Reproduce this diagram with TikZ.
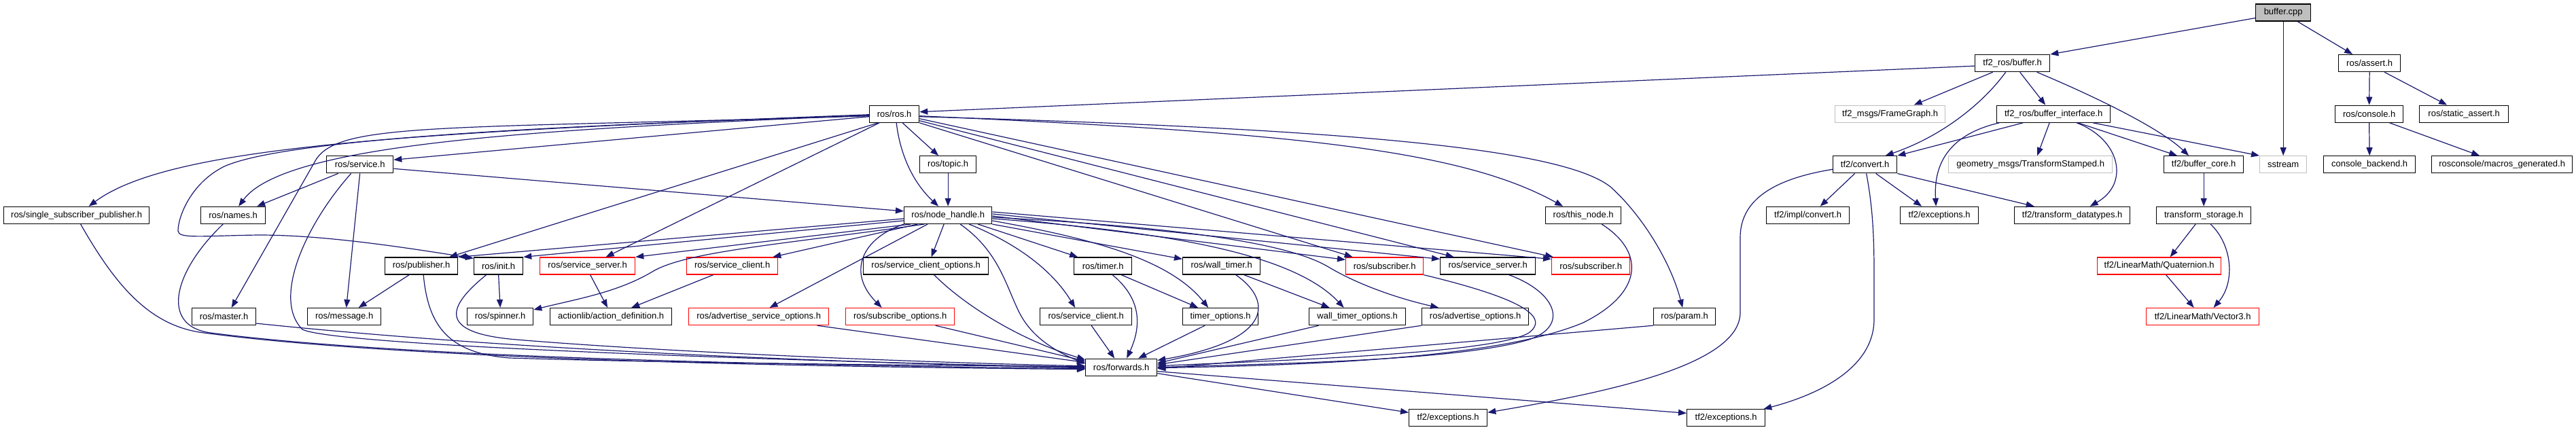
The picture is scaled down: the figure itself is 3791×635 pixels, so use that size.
\documentclass[tikz,border=0pt]{standalone}
\usepackage{fontspec}
\setmainfont{Liberation Sans}
\usetikzlibrary{arrows.meta}
\definecolor{edgec}{HTML}{191970}
\definecolor{grayb}{HTML}{BFBFBF}
\definecolor{redb}{HTML}{FF0000}
\tikzset{
 bx/.style={draw=black, line width=1.3pt, fill=white, inner sep=0pt, minimum height=25pt, anchor=west, font=\fontsize{13}{15}\selectfont},
 rb/.style={bx, draw=redb},
 gb/.style={bx, draw=grayb},
 fb/.style={bx, fill=grayb},
 edg/.style={draw=edgec, line width=1.2pt, -{Triangle[length=12pt,width=9pt]}},
}
\begin{document}
\begin{tikzpicture}[x=1pt,y=-1pt]
\fill[white] (0,0) rectangle (3791,635);
\useasboundingbox (0,0) rectangle (3791,635);
% row 0
\node[fb, minimum width=81pt] (bcpp) at (3319,18.5) {buffer.cpp};
% row 1
\node[bx, minimum width=110pt] (tfbuf) at (2906,93.1) {tf2\_ros/buffer.h};
\node[bx, minimum width=91pt] (assrt) at (3441,93.1) {ros/assert.h};
% row 2
\node[bx, minimum width=73pt] (rosh) at (1279,167.7) {ros/ros.h};
\node[gb, minimum width=162pt] (fg) at (2700,167.7) {tf2\_msgs/FrameGraph.h};
\node[bx, minimum width=167pt] (bi) at (2938,167.7) {tf2\_ros/buffer\_interface.h};
\node[bx, minimum width=100pt] (cons) at (3436,167.7) {ros/console.h};
\node[bx, minimum width=131pt] (sassert) at (3560,167.7) {ros/static\_assert.h};
% row 3
\node[bx, minimum width=98pt] (service) at (480,242.3) {ros/service.h};
\node[bx, minimum width=83pt] (topic) at (1353,242.3) {ros/topic.h};
\node[bx, minimum width=94pt] (convert) at (2697,242.3) {tf2/convert.h};
\node[gb, minimum width=241pt] (ts) at (2867,242.3) {geometry\_msgs/TransformStamped.h};
\node[bx, minimum width=117pt] (bcore) at (3184,242.3) {tf2/buffer\_core.h};
\node[gb, minimum width=69pt] (sstream) at (3325,242.3) {sstream};
\node[bx, minimum width=135pt] (cback) at (3419,242.3) {console\_backend.h};
\node[bx, minimum width=207pt] (macros) at (3578,242.3) {rosconsole/macros\_generated.h};
% row 4
\node[bx, minimum width=214pt] (ssp) at (5,316.9) {ros/single\_subscriber\_publisher.h};
\node[bx, minimum width=95pt] (names) at (295,316.9) {ros/names.h};
\node[bx, minimum width=129pt] (nh) at (1330,316.9) {ros/node\_handle.h};
\node[bx, minimum width=111pt] (thisnode) at (2274,316.9) {ros/this\_node.h};
\node[bx, minimum width=122pt] (impl) at (2599,316.9) {tf2/impl/convert.h};
\node[bx, minimum width=115pt] (exc3) at (2796,316.9) {tf2/exceptions.h};
\node[bx, minimum width=170pt] (tdt) at (2964,316.9) {tf2/transform\_datatypes.h};
\node[bx, minimum width=139pt] (tstore) at (3173,316.9) {transform\_storage.h};
% row 5
\node[bx, minimum width=107pt] (pub) at (566,391.5) {ros/publisher.h};
\node[bx, minimum width=72pt] (init) at (697,391.5) {ros/init.h};
\node[rb, minimum width=140pt] (ssrv) at (794,391.5) {ros/service\_server.h};
\node[rb, minimum width=134pt] (scli) at (1010,391.5) {ros/service\_client.h};
\node[bx, minimum width=184pt] (sco) at (1270,391.5) {ros/service\_client\_options.h};
\node[bx, minimum width=85pt] (timer) at (1580,391.5) {ros/timer.h};
\node[bx, minimum width=114pt] (wtimer) at (1740,391.5) {ros/wall\_timer.h};
\node[rb, minimum width=114pt] (sub1) at (1980,391.5) {ros/subscriber.h};
\node[bx, minimum width=140pt] (ssrv2) at (2119,391.5) {ros/service\_server.h};
\node[rb, minimum width=115pt] (sub2) at (2283,391.5) {ros/subscriber.h};
\node[rb, minimum width=182pt] (quat) at (3086,391.5) {tf2/LinearMath/Quaternion.h};
% row 6
\node[bx, minimum width=94pt] (master) at (282,466.1) {ros/master.h};
\node[bx, minimum width=108pt] (message) at (452,466.1) {ros/message.h};
\node[bx, minimum width=97pt] (spinner) at (687,466.1) {ros/spinner.h};
\node[bx, minimum width=179pt] (actdef) at (809,466.1) {actionlib/action\_definition.h};
\node[rb, minimum width=206pt] (aso) at (1013,466.1) {ros/advertise\_service\_options.h};
\node[rb, minimum width=160pt] (subopt) at (1244,466.1) {ros/subscribe\_options.h};
\node[bx, minimum width=135pt] (scli2) at (1530,466.1) {ros/service\_client.h};
\node[bx, minimum width=111pt] (topt) at (1740,466.1) {timer\_options.h};
\node[bx, minimum width=142pt] (wtopt) at (1926,466.1) {wall\_timer\_options.h};
\node[bx, minimum width=157pt] (advopt) at (2092,466.1) {ros/advertise\_options.h};
\node[bx, minimum width=91pt] (param) at (2433,466.1) {ros/param.h};
\node[rb, minimum width=166pt] (vec3) at (3158,466.1) {tf2/LinearMath/Vector3.h};
% row 7
\node[bx, minimum width=105pt] (fwd) at (1597,540.7) {ros/forwards.h};
% row 8
\node[bx, minimum width=115pt] (exc1) at (2073,615.3) {tf2/exceptions.h};
\node[bx, minimum width=115pt] (exc2) at (2482,615.3) {tf2/exceptions.h};

% ---- edges: tf2 side
\draw[edg] ([yshift=-8]bcpp.west) -- (tfbuf.north east);
\draw[edg] (bcpp.south) -- (sstream.north);
\draw[edg] ([xshift=21]bcpp.south) -- ([xshift=-25]assrt.north);
\draw[edg] (assrt.south) -- (cons.north);
\draw[edg] ([xshift=22]assrt.south) -- ([xshift=-25]sassert.north);
\draw[edg] (cons.south) -- (cback.north);
\draw[edg] ([xshift=30]cons.south) -- ([xshift=-33]macros.north);
\draw[edg] ([yshift=-4]tfbuf.west) -- ([yshift=3]rosh.east);
\draw[edg] ([xshift=-29]tfbuf.south) -- ([xshift=35]fg.north);
\draw[edg] ([xshift=-10]tfbuf.south) .. controls (2920,150) and (2860,200) .. ([xshift=30]convert.north);
\draw[edg] ([xshift=11]tfbuf.south) -- ([xshift=-12]bi.north);
\draw[edg] ([xshift=36]tfbuf.south) .. controls (3090,145) and (3180,190) .. ([xshift=-22]bcore.north);
\draw[edg] ([xshift=-45]bi.south) -- (convert.north east);
\draw[edg] ([xshift=-6]bi.south) -- ([xshift=10]ts.north);
\draw[edg] ([xshift=-80]bi.south) .. controls (2860,200) and (2846,250) .. ([xshift=-5]exc3.north);
\draw[edg] ([xshift=34]bi.south) .. controls (3120,205) and (3135,270) .. ([xshift=26]tdt.north);
\draw[edg] ([xshift=58]bi.south) -- (sstream.north west);
\draw[edg] ([xshift=36]bi.south) -- ([xshift=-39]bcore.north);
\draw[edg] ([xshift=-15]convert.south) -- ([xshift=18]impl.north);
\draw[edg] ([xshift=16]convert.south) -- ([xshift=-26]exc3.north);
\draw[edg] (convert.south east) -- ([xshift=-56]tdt.north);
\draw[edg] ([yshift=-7]convert.west) .. controls (2600,265) and (2561,300) .. (2561,350) -- (2561,460) .. controls (2561,540) and (2350,580) .. ([yshift=8]exc1.east);
\draw[edg] ([xshift=2]convert.south) .. controls (2755,300) and (2758,340) .. (2758,400) -- (2758,470) .. controls (2758,540) and (2680,580) .. ([xshift=-3]exc2.north east);
\draw[edg] (bcore.south) -- (tstore.north);
\draw[edg] ([xshift=-12]tstore.south) -- ([xshift=16]quat.north);
\draw[edg] ([xshift=10]tstore.south) .. controls (3285,360) and (3290,415) .. ([xshift=16]vec3.north);
\draw[edg] ([xshift=10]quat.south) -- ([xshift=-13]vec3.north);

% ---- edges: ros.h
\draw[edg] ([yshift=-1]rosh.west) .. controls (600,195) and (250,215) .. ([xshift=18]ssp.north);
\draw[edg] ([yshift=-2]rosh.west) .. controls (800,190) and (420,210) .. ([xshift=8]names.north);
\draw[edg] ([yshift=-3]rosh.west) .. controls (650,190) and (500,180) .. (465,235) -- ([xshift=11]master.north);
\draw[edg] ([yshift=-4]rosh.west) -- ([yshift=7]service.east);
\draw[edg] ([yshift=-2.5]rosh.west) .. controls (800,185) and (420,205) .. (330,245) .. controls (280,270) and (262,320) .. (262,340) .. controls (262,352) and (300,347) .. (381,346) .. controls (480,346) and (600,365) .. ([yshift=-2]init.north west);
\draw[edg] ([xshift=-24]rosh.south) -- ([xshift=41]pub.north);
\draw[edg] ([xshift=-22]rosh.south) -- ([xshift=27]ssrv.north);
\draw[edg] ([xshift=12]rosh.south) -- ([xshift=-14]topic.north);
\draw[edg] ([xshift=3]rosh.south) .. controls (1325,230) and (1345,270) .. ([xshift=-14]nh.north);
\draw[edg] (topic.south) -- (nh.north);
\draw[edg] ([yshift=-3]rosh.east) .. controls (1900,195) and (2150,220) .. ([xshift=-30]thisnode.north);
\draw[edg] ([yshift=-4]rosh.east) .. controls (2000,190) and (2300,220) .. (2370,275) .. controls (2420,320) and (2460,390) .. ([xshift=-3]param.north);
\draw[edg] (rosh.south east) -- ([xshift=-47]sub1.north);
\draw[edg] ([yshift=-10]rosh.east) -- ([xshift=-50]ssrv2.north);
\draw[edg] ([yshift=-7]rosh.east) -- ([xshift=3]sub2.north west);

% ---- edges: node_handle.h
\draw[edg] ([yshift=-5]nh.west) -- (pub.north east);
\draw[edg] ([yshift=-8]nh.west) -- (init.north east);
\draw[edg] ([xshift=-55]nh.south) -- (ssrv.north east);
\draw[edg] ([xshift=-45]nh.south) -- ([xshift=-8]scli.north east);
\draw[edg] ([xshift=-35]nh.south) .. controls (1150,360) and (1010,370) .. (960,400) .. controls (910,430) and (850,440) .. ([yshift=-3]spinner.north east);
\draw[edg] ([xshift=-30]nh.south) -- ([xshift=16]aso.north);
\draw[edg] (nh.south west) .. controls (1270,350) and (1245,400) .. ([xshift=-27]subopt.north);
\draw[edg] ([xshift=-6]nh.south) -- ([xshift=8]sco.north);
\draw[edg] ([xshift=18]nh.south) .. controls (1470,370) and (1480,420) .. (1500,460) .. controls (1520,500) and (1560,520) .. ([yshift=5]fwd.west);
\draw[edg] ([xshift=31]nh.south) .. controls (1500,360) and (1550,400) .. ([xshift=-16]scli2.north);
\draw[edg] ([xshift=44]nh.south) -- ([xshift=-37]timer.north);
\draw[edg] (nh.south east) -- ([yshift=-3]wtimer.north west);
\draw[edg] ([yshift=-8]nh.east) .. controls (1600,350) and (1720,380) .. ([xshift=-18]topt.north);
\draw[edg] ([yshift=-5]nh.east) .. controls (1700,340) and (1900,370) .. ([xshift=-20]wtopt.north);
\draw[edg] ([yshift=-3]nh.east) .. controls (1750,335) and (1900,360) .. (1955,393) .. controls (2000,420) and (2060,440) .. ([xshift=-54]advopt.north);
\draw[edg] ([yshift=-1]nh.east) -- ([yshift=-4]sub1.north west);
\draw[edg] ([yshift=2]nh.east) -- ([yshift=-3]ssrv2.north west);
\draw[edg] ([yshift=5]nh.east) -- ([yshift=-3]sub2.north west);

% ---- edges: service.h and others
\draw[edg] ([xshift=-32]service.south) -- ([xshift=35]names.north);
\draw[edg] (service.south) -- ([xshift=3]message.north);
\draw[edg] ([yshift=-6]service.east) -- ([yshift=6]nh.west);
\draw[edg] ([xshift=-18]pub.south) -- ([xshift=21]message.north);
\draw[edg] (init.south) -- (spinner.north);
\draw[edg] ([xshift=4]ssrv.south) -- ([xshift=-5]actdef.north);
\draw[edg] ([xshift=-28]scli.south) -- ([xshift=30]actdef.north);
\draw[edg] ([xshift=27]timer.south) -- ([xshift=-33]topt.north);
\draw[edg] ([xshift=33]wtimer.south) -- ([xshift=-41]wtopt.north);

% ---- edges into forwards.h
\draw[edg] ([xshift=6]ssp.south) .. controls (170,420) and (220,480) .. (300,490) .. controls (600,530) and (1200,540) .. ([yshift=-3]fwd.west);
\draw[edg] ([xshift=-15]names.south) .. controls (255,400) and (235,480) .. (310,490) .. controls (600,528) and (1200,538) .. ([yshift=-2]fwd.west);
\draw[edg] ([yshift=-10]master.east) .. controls (800,520) and (1300,535) .. ([yshift=-1]fwd.west);
\draw[edg] ([xshift=-13]service.south) .. controls (450,330) and (400,440) .. (445,485) .. controls (500,512) and (1300,535) .. (fwd.west);
\draw[edg] ([xshift=3]pub.south) .. controls (630,480) and (660,520) .. (750,527) .. controls (1000,535) and (1400,538) .. ([yshift=1]fwd.west);
\draw[edg] ([xshift=-18]init.south) .. controls (660,450) and (640,490) .. (760,500) .. controls (1000,520) and (1400,535) .. ([yshift=2]fwd.west);
\draw[edg] ([xshift=86]aso.south) -- ([yshift=-6]fwd.north west);
\draw[edg] ([xshift=52]subopt.south) -- ([yshift=-4]fwd.north west);
\draw[edg] ([xshift=12]sco.south) .. controls (1420,450) and (1500,500) .. ([yshift=-2]fwd.north west);
\draw[edg] ([xshift=8]scli2.south) -- ([xshift=-10]fwd.north);
\draw[edg] ([xshift=14]timer.south) .. controls (1680,440) and (1680,480) .. ([xshift=8]fwd.north);
\draw[edg] ([xshift=-23]topt.south) -- ([xshift=25]fwd.north);
\draw[edg] ([xshift=21]wtimer.south) .. controls (1870,440) and (1880,500) .. ([yshift=-3]fwd.north east);
\draw[edg] ([xshift=-57]wtopt.south) -- ([yshift=6]fwd.east);
\draw[edg] (advopt.south west) -- ([yshift=4]fwd.east);
\draw[edg] (sub1.south east) .. controls (2200,430) and (2290,460) .. (2250,490) .. controls (2200,520) and (1900,530) .. ([yshift=2]fwd.east);
\draw[edg] ([xshift=31]ssrv2.south) .. controls (2290,430) and (2310,480) .. (2250,500) .. controls (2150,530) and (1900,535) .. (fwd.east);
\draw[edg] ([xshift=27]thisnode.south) .. controls (2420,370) and (2420,430) .. (2330,475) .. controls (2200,530) and (1900,538) .. ([yshift=-1]fwd.east);
\draw[edg] (param.south west) -- ([yshift=-2]fwd.east);
\draw[edg] ([yshift=-9]fwd.east) -- ([yshift=8]exc1.west);
\draw[edg] ([yshift=-6]fwd.east) -- ([yshift=7]exc2.west);
\end{tikzpicture}
\end{document}
